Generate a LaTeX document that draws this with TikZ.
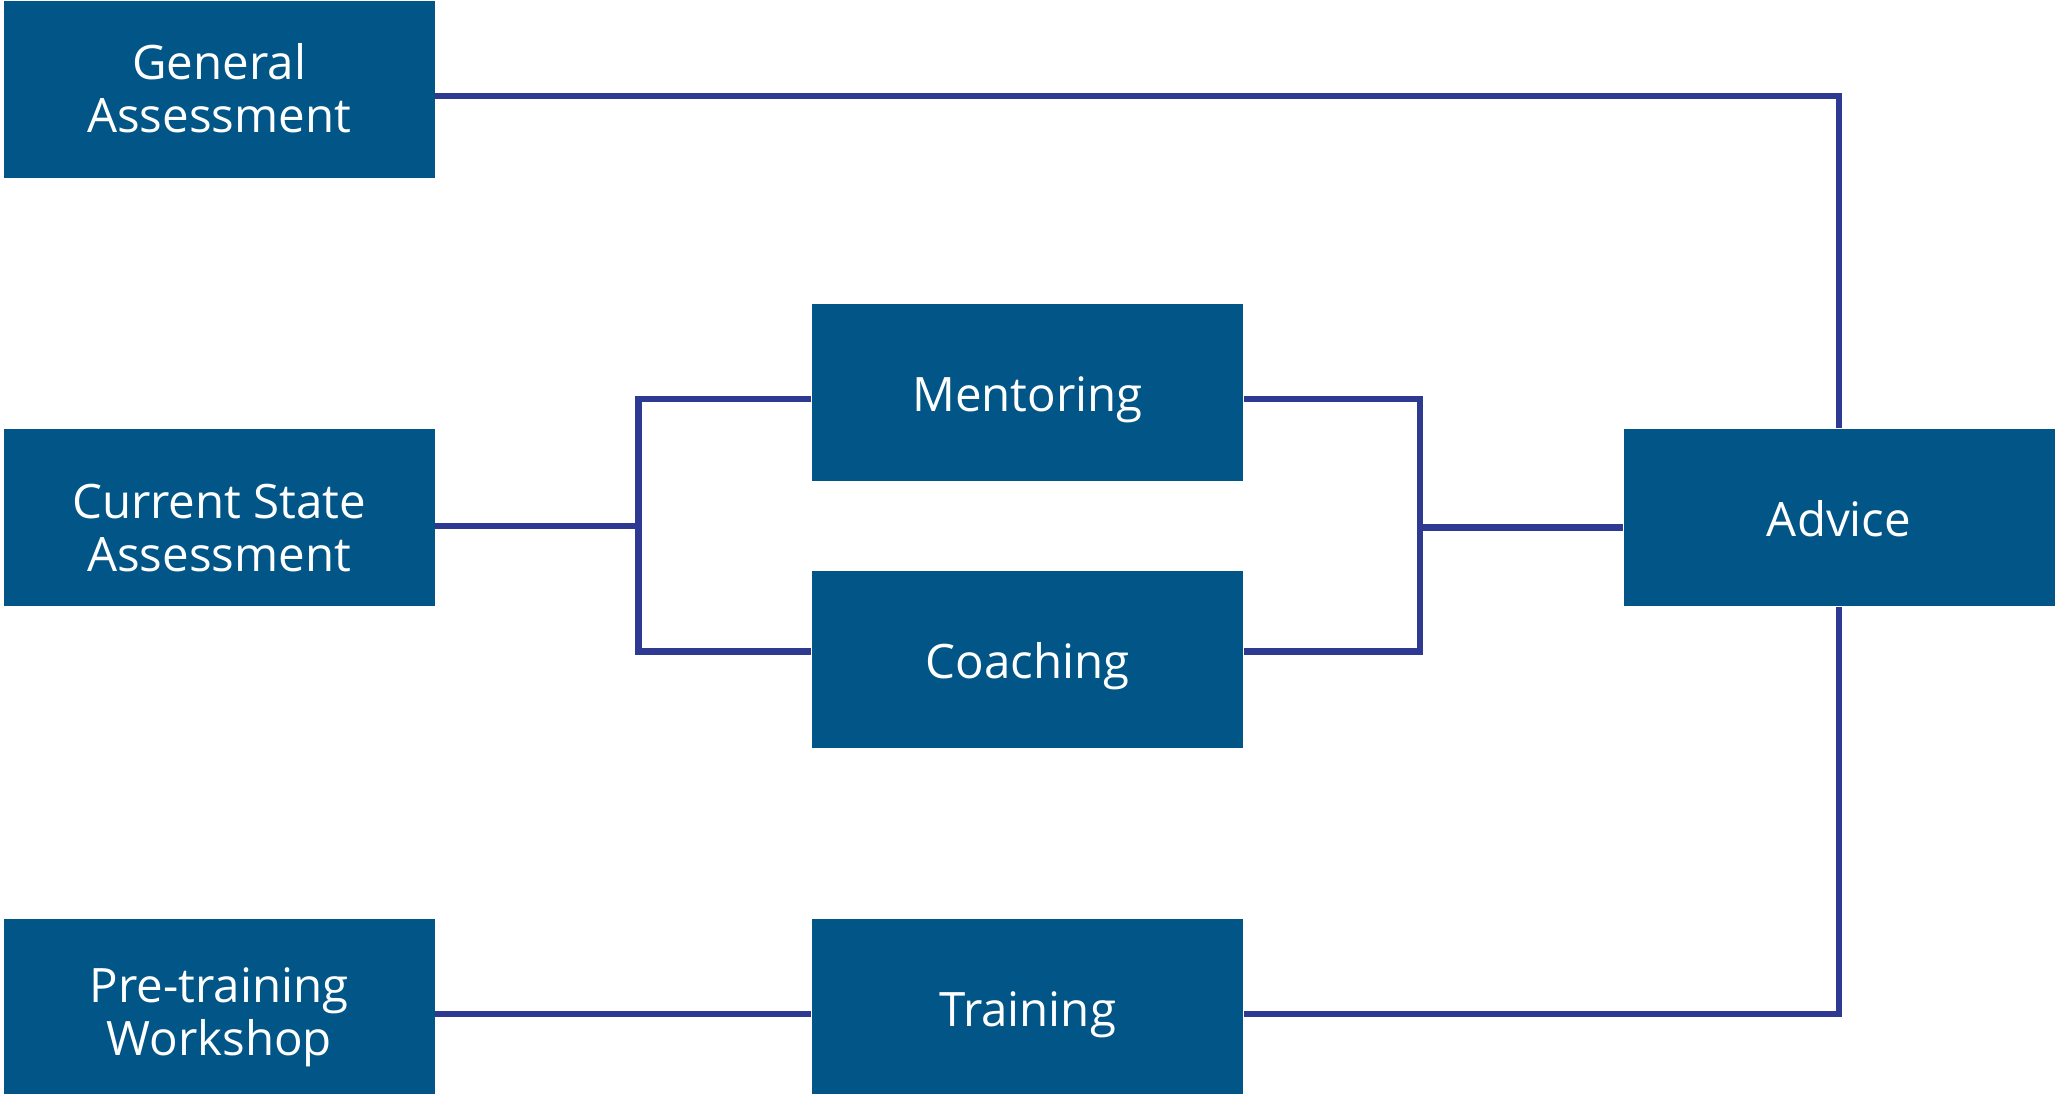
\documentclass[tikz,border=0pt]{standalone}
\usepackage{fontspec}
\setmainfont{Open Sans}
\usetikzlibrary{positioning,calc}
\definecolor{boxblue}{RGB}{2,86,135}
\definecolor{linkblue}{RGB}{46,58,145}

\begin{document}
\begin{tikzpicture}[
    node distance=2.5cm and 3.76cm,
    block/.style={
        rectangle,
        fill=boxblue,
        text=white,
        minimum width=4.31cm,
        minimum height=1.77cm,
        align=center,
        inner sep=0pt,
        text height=11pt,
        text depth=0pt,
        font=\fontsize{13.5}{15}\selectfont
    },
    link/.style={
        draw,
        color=linkblue,
        line width=1.85pt
    }
]
    \useasboundingbox (0,0) rectangle (20.55,-10.93);

    % --- Left Column: Entry Points ---
    \node [block, text height=24.5pt, anchor=north west] (gen) at (0.03,0) {General\\Assessment};
    \node [block, text height=30.5pt, below=of gen] (cur) {Current State\\Assessment};
    \node [block, text height=27.5pt, below=3.11cm of cur] (pre) {Pre-training\\Workshop};

    % --- Middle Column ---
    \node [block, right=of cur, yshift=1.255cm] (men) {Mentoring};
    \node [block, below=0.89cm of men] (coa) {Coaching};
    \node [block, right=of pre] (tra) {Training};

    % --- Right Column ---
    \node [block, anchor=west] (adv) at ([xshift=3.79cm]men.east |- cur) {Advice};

    % --- Junctions ---
    \coordinate (jl) at ($(cur.east) + (2.03,-0.085)$);
    \coordinate (jr) at ($(men.east |- adv.west) + (1.76,-0.1)$);

    % --- Connections ---

    % 1. General Assessment -> Advice (over the top)
    \draw [link] ([yshift=-0.07cm]gen.east) -| (adv.north);

    % 2. Current State -> Mentoring / Coaching
    \draw [link] ([yshift=-0.085cm]cur.east) -- (jl);
    \draw [link] ([yshift=-0.07cm]men.west) -| (jl) |- ([yshift=0.08cm]coa.west);

    % 3. Mentoring / Coaching -> Advice
    \draw [link] ([yshift=-0.07cm]men.east) -| (jr) |- ([yshift=0.08cm]coa.east);
    \draw [link] (jr) -- (adv.west |- jr);

    % 4. Workshop -> Training -> Advice (from below)
    \draw [link] ([yshift=-0.07cm]pre.east) -- ([yshift=-0.07cm]tra.west);
    \draw [link] ([yshift=-0.07cm]tra.east) -| (adv.south);

\end{tikzpicture}
\end{document}
